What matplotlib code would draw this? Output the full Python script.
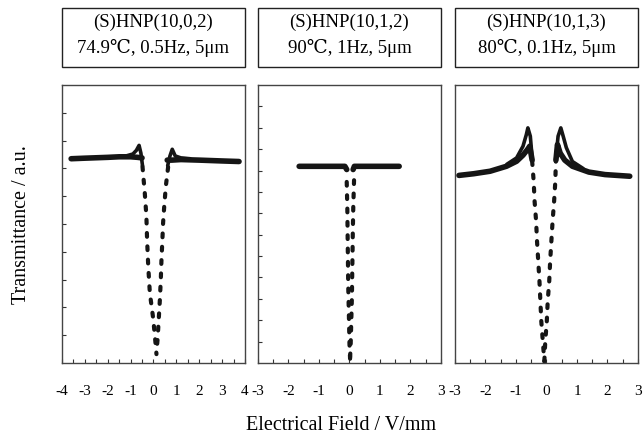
import matplotlib.pyplot as plt
from matplotlib.patches import Rectangle

plt.rcParams['font.family'] = ['Liberation Serif', 'DejaVu Serif']
plt.rcParams['axes.unicode_minus'] = False

# Titles of the three panels
titles = [("(S)HNP(10,0,2)", "74.9\u2103, 0.5Hz, 5\u03bcm"),
          ("(S)HNP(10,1,2)", "90\u2103, 1Hz, 5\u03bcm"),
          ("(S)HNP(10,1,3)", "80\u2103, 0.1Hz, 5\u03bcm")]

# Panel 1: (S)HNP(10,0,2)
p1_flat_left_x = [-3.6, -3.0, -2.0, -1.5, -1.0, -0.7, -0.5]
p1_flat_left_y = [7.35, 7.37, 7.40, 7.42, 7.42, 7.40, 7.38]
p1_peak_left_x = [-1.2, -0.9, -0.75, -0.63, -0.55, -0.48]
p1_peak_left_y = [7.45, 7.52, 7.65, 7.83, 7.55, 7.10]
p1_flat_right_x = [0.6, 0.8, 1.2, 2.0, 3.0, 3.74]
p1_flat_right_y = [7.30, 7.30, 7.32, 7.30, 7.27, 7.25]
p1_peak_right_x = [0.62, 0.72, 0.82, 0.95, 1.2, 1.6]
p1_peak_right_y = [7.10, 7.45, 7.69, 7.45, 7.38, 7.35]
p1_dip_left_x = [-0.48, -0.38, -0.31, -0.28, -0.23, -0.16, -0.01, 0.10, 0.13]
p1_dip_left_y = [7.07, 6.11, 5.28, 4.44, 3.49, 2.53, 1.58, 0.62, 0.32]
p1_dip_right_x = [0.64, 0.54, 0.47, 0.42, 0.39, 0.35, 0.32, 0.28, 0.23, 0.18, 0.13]
p1_dip_right_y = [7.05, 6.36, 5.64, 5.04, 4.44, 3.73, 3.01, 2.29, 1.58, 0.86, 0.40]

# Panel 2: (S)HNP(10,1,2)
p2_flat_left_x = [-1.65, -1.0, -0.5, -0.15, -0.09]
p2_flat_left_y = [9.2, 9.2, 9.2, 9.2, 9.05]
p2_flat_right_x = [0.12, 0.16, 0.5, 1.0, 1.63]
p2_flat_right_y = [9.05, 9.2, 9.2, 9.2, 9.2]
p2_dip_left_x = [-0.09, -0.07, -0.06, -0.05, -0.04, -0.02, 0.0, 0.02]
p2_dip_left_y = [8.47, 7.22, 5.90, 4.73, 3.56, 2.31, 0.90, 0.20]
p2_dip_right_x = [0.15, 0.125, 0.11, 0.10, 0.09, 0.08, 0.06, 0.04, 0.02]
p2_dip_right_y = [8.55, 7.30, 6.20, 5.10, 4.18, 3.09, 2.00, 0.90, 0.20]

# Panel 3: (S)HNP(10,1,3)
p3_lower_left_x = [-2.87, -2.39, -1.85, -1.31, -0.98, -0.77, -0.61, -0.55, -0.47]
p3_lower_left_y = [6.75, 6.81, 6.90, 7.08, 7.26, 7.48, 7.70, 7.80, 7.30]
p3_upper_left_x = [-1.3, -0.98, -0.77, -0.66, -0.61, -0.53, -0.47]
p3_upper_left_y = [7.15, 7.38, 7.80, 8.22, 8.46, 8.16, 7.38]
p3_lower_right_x = [0.31, 0.36, 0.45, 0.60, 0.85, 1.39, 1.92, 2.73]
p3_lower_right_y = [7.30, 7.86, 7.55, 7.30, 7.08, 6.87, 6.78, 6.72]
p3_upper_right_x = [0.31, 0.38, 0.47, 0.55, 0.65, 0.85, 1.2]
p3_upper_right_y = [7.38, 8.16, 8.46, 8.15, 7.75, 7.25, 7.0]
p3_dip_left_x = [-0.47, -0.42, -0.39, -0.34, -0.31, -0.27, -0.23, -0.20, -0.17, -0.12, -0.07]
p3_dip_left_y = [7.26, 6.54, 5.82, 5.10, 4.38, 3.66, 2.94, 2.22, 1.50, 0.78, 0.06]
p3_dip_right_x = [0.31, 0.29, 0.25, 0.20, 0.16, 0.12, 0.09, 0.04, 0.01, -0.04, -0.07]
p3_dip_right_y = [7.38, 6.54, 5.82, 5.10, 4.38, 3.66, 2.94, 2.22, 1.50, 0.78, 0.06]

fig = plt.figure(figsize=(6.43, 4.37), dpi=100)

ax_pos = [[0.0964, 0.1693, 0.2846, 0.636],
          [0.4012, 0.1693, 0.2846, 0.636],
          [0.7076, 0.1693, 0.2846, 0.636]]
xlims = [(-4, 4), (-3, 3), (-3, 3)]
ylims = [(0, 10), (0, 13), (0, 10)]

axes = [fig.add_axes(p) for p in ax_pos]

flat_style = dict(color="#151515", lw=4.0, solid_capstyle="round", solid_joinstyle="round")
thin_style = dict(color="#151515", lw=2.6, solid_capstyle="round", solid_joinstyle="round")
dot_style = dict(color="#151515", lw=3.0, linestyle=(0, (0.9, 2.3)), dash_capstyle="round")

ax = axes[0]
ax.plot(p1_flat_left_x, p1_flat_left_y, **flat_style)
ax.plot(p1_peak_left_x, p1_peak_left_y, **thin_style)
ax.plot(p1_flat_right_x, p1_flat_right_y, **flat_style)
ax.plot(p1_peak_right_x, p1_peak_right_y, **thin_style)
ax.plot(p1_dip_left_x, p1_dip_left_y, **dot_style)
ax.plot(p1_dip_right_x, p1_dip_right_y, **dot_style)

ax = axes[1]
ax.plot(p2_flat_left_x, p2_flat_left_y, **flat_style)
ax.plot(p2_flat_right_x, p2_flat_right_y, **flat_style)
ax.plot(p2_dip_left_x, p2_dip_left_y, **dot_style)
ax.plot(p2_dip_right_x, p2_dip_right_y, **dot_style)

ax = axes[2]
ax.plot(p3_lower_left_x, p3_lower_left_y, **flat_style)
ax.plot(p3_upper_left_x, p3_upper_left_y, **thin_style)
ax.plot(p3_lower_right_x, p3_lower_right_y, **flat_style)
ax.plot(p3_upper_right_x, p3_upper_right_y, **thin_style)
ax.plot(p3_dip_left_x, p3_dip_left_y, **dot_style)
ax.plot(p3_dip_right_x, p3_dip_right_y, **dot_style)

for i, ax in enumerate(axes):
    lo, hi = xlims[i]
    ax.set_xlim(lo, hi)
    ax.set_ylim(*ylims[i])
    ax.set_xticks(range(lo, hi + 1))
    ax.set_xticks([lo + 0.5 * k for k in range(int((hi - lo) * 2) + 1)], minor=True)
    ax.tick_params(axis="x", which="both", direction="in", length=3, width=0.8,
                   labelsize=11, pad=16, colors="#333333", labelcolor="black")
    if i < 2:
        ax.set_yticks(range(1, ylims[i][1]))
        ax.tick_params(axis="y", direction="in", length=3, width=0.8, labelleft=False,
                       colors="#333333")
    else:
        ax.set_yticks([])
    for s in ax.spines.values():
        s.set_linewidth(1.0)
        s.set_color("#444444")

    # title box above each panel
    x0, _, w, _ = ax_pos[i]
    fig.patches.append(Rectangle((x0, 0.8467), w, 0.135, transform=fig.transFigure,
                                 fill=False, edgecolor="#222222", lw=1.0))
    fig.text(x0 + w / 2, 0.9485, titles[i][0], ha="center", va="center", fontsize=13.5)
    fig.text(x0 + w / 2, 0.890, titles[i][1], ha="center", va="center", fontsize=13.5)

fig.text(0.034, 0.485, "Transmittance / a.u.", rotation=90, ha="center", va="center",
         fontsize=14.5)
fig.text(0.53, 0.027, "Electrical Field / V/mm", ha="center", va="center", fontsize=14.5)

fig.savefig("out.png", dpi=100)
